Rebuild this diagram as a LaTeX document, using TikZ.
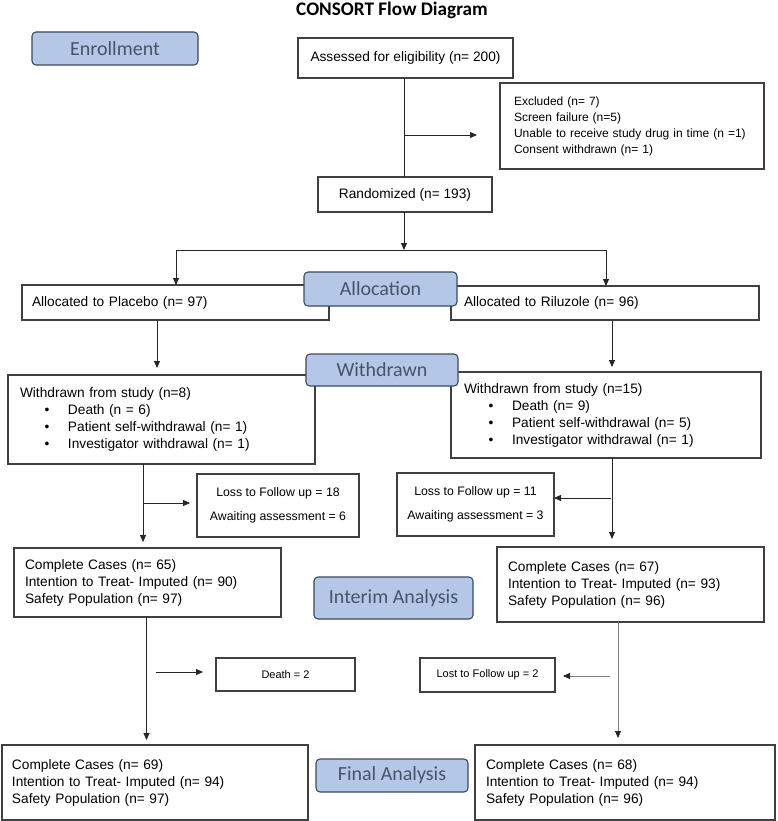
\documentclass[tikz,border=0pt]{standalone}
\usepackage{fontspec}
\setmainfont{Liberation Sans}
\newfontfamily\calfont{Carlito}
\usetikzlibrary{arrows.meta}
\definecolor{lblfill}{HTML}{B4C7E7}
\definecolor{lblline}{HTML}{3B4A5E}
\definecolor{lbltext}{HTML}{44546A}
\definecolor{boxline}{HTML}{404040}
\newcommand\bul{\makebox[48pt][l]{\hspace*{24.5pt}\textbullet}}
\tikzset{
  every node/.style={inner sep=0pt, outer sep=0pt},
  box/.style={draw=boxline, line width=1.1pt, fill=white},
  lbl/.style={draw=lblline, line width=1.1pt, fill=lblfill, rounded corners=4pt,
    font=\calfont\fontsize{20}{24}\selectfont, text=lbltext},
  arr/.style={draw=black!85, line width=0.9pt, -{Triangle[length=7pt,width=6pt]}},
  garr/.style={draw=black!50, line width=0.9pt, -{Triangle[length=7pt,width=6pt,color=black!85]}},
  ln/.style={draw=black!85, line width=0.9pt},
  main/.style={font=\fontsize{13.7}{17}\selectfont},
  small/.style={font=\fontsize{12}{16}\selectfont},
  loss/.style={font=\fontsize{12.3}{24}\selectfont, align=center},
  tiny/.style={font=\fontsize{11}{13}\selectfont},
}
\begin{document}
\begin{tikzpicture}[x=1pt,y=-1pt]
\fill[white] (0,0) rectangle (777,821);
\useasboundingbox (0,0) rectangle (777,821);

\node[font=\calfont\bfseries\fontsize{19.2}{23}\selectfont] (title) at (392,10) {CONSORT Flow Diagram};

% main boxes
\node[box, main, minimum width=215pt, minimum height=40pt] (assess) at (405.5,58) {Assessed for eligibility (n= 200)};
\node[box, small, minimum width=264pt, minimum height=86pt, text width=236pt, align=left] (excl) at (632,126)
  {Excluded (n= 7)\\Screen failure (n=5)\\Unable to receive study drug in time (n =1)\\Consent withdrawn (n= 1)};
\node[box, main, minimum width=174pt, minimum height=35pt] (rand) at (405,194.5) {Randomized (n= 193)};

\node[box, main, minimum width=307pt, minimum height=35pt, text width=287pt, align=left] (plac) at (175.5,302.5) {Allocated to Placebo (n= 97)};
\node[box, main, minimum width=308pt, minimum height=34pt, text width=282pt, align=left] (rilu) at (605,303) {Allocated to Riluzole (n= 96)};

\node[box, main, minimum width=307pt, minimum height=89pt, text width=283pt, align=left] (wl) at (161.5,419.5)
  {Withdrawn from study (n=8)\\\bul Death (n = 6)\\\bul Patient self-withdrawal (n= 1)\\\bul Investigator withdrawal (n= 1)};
\node[box, main, minimum width=310pt, minimum height=86pt, text width=284pt, align=left] (wr) at (606,415)
  {Withdrawn from study (n=15)\\\bul Death (n= 9)\\\bul Patient self-withdrawal (n= 5)\\\bul Investigator withdrawal (n= 1)};

\node[box, loss, minimum width=162pt, minimum height=63pt] (lossl) at (278,505.5) {Loss to Follow up = 18\\Awaiting assessment = 6};
\node[box, loss, minimum width=157pt, minimum height=63pt] (lossr) at (475.5,504.5) {Loss to Follow up = 11\\Awaiting assessment = 3};

\node[box, main, minimum width=267pt, minimum height=69pt, text width=245pt, align=left] (ccl) at (147.5,582.5)
  {Complete Cases (n= 65)\\Intention to Treat- Imputed (n= 90)\\Safety Population (n= 97)};
\node[box, main, minimum width=267pt, minimum height=75pt, text width=245pt, align=left] (ccr) at (630.5,584.5)
  {Complete Cases (n= 67)\\Intention to Treat- Imputed (n= 93)\\Safety Population (n= 96)};

\node[box, tiny, minimum width=139pt, minimum height=33pt] (death) at (285.5,674.5) {Death = 2};
\node[box, tiny, minimum width=135pt, minimum height=34pt] (lost) at (487.5,675) {Lost to Follow up = 2};

\node[box, main, minimum width=306pt, minimum height=75pt, text width=286pt, align=left] (fl) at (155,782.5)
  {Complete Cases (n= 69)\\Intention to Treat- Imputed (n= 94)\\Safety Population (n= 97)};
\node[box, main, minimum width=300pt, minimum height=75pt, text width=278pt, align=left] (fr) at (625,782.5)
  {Complete Cases (n= 68)\\Intention to Treat- Imputed (n= 94)\\Safety Population (n= 96)};

% label boxes
\node[lbl, minimum width=166pt, minimum height=33pt] (enr) at (115,48.5) {Enrollment};
\node[lbl, minimum width=153pt, minimum height=34pt] (alloc) at (380.5,289) {Allocation};
\node[lbl, minimum width=152pt, minimum height=32pt] (wdr) at (382,370) {Withdrawn};
\node[lbl, minimum width=159pt, minimum height=42pt] (interim) at (393.5,598) {Interim Analysis};
\node[lbl, minimum width=152pt, minimum height=33pt] (final) at (392,775.5) {Final Analysis};

% free ends / column positions
\coordinate (xa) at (404,135);
\coordinate (ex1) at (477,135);
\coordinate (br) at (404,250);
\coordinate (brl) at (176,250);
\coordinate (brr) at (606,250);
\coordinate (xp) at (157,0);
\coordinate (xq) at (612,0);
\coordinate (xw) at (143,0);
\coordinate (wh0) at (143,503);
\coordinate (vh0) at (611,498);
\coordinate (xc) at (146.5,0);
\coordinate (dh0) at (156,672);
\coordinate (xd) at (618,0);
\coordinate (lh0) at (610,676);

% connectors
\draw[ln] (assess.south -| xa) -- (rand.north -| xa);
\draw[arr] (xa) -- (ex1);
\draw[arr] (rand.south -| br) -- (br);
\draw[ln] (brl) -- (brr);
\draw[arr] (brl) -- (plac.north -| brl);
\draw[arr] (brr) -- (rilu.north -| brr);
\draw[arr, shorten <=1pt, shorten >=7pt] (plac.south -| xp) -- (wl.north -| xp);
\draw[arr, shorten <=1pt, shorten >=5pt] (rilu.south -| xq) -- (wr.north -| xq);
\draw[arr, shorten >=6pt] (wl.south -| xw) -- (ccl.north -| xw);
\draw[arr, shorten >=7pt] (wh0) -- (lossl.west |- wh0);
\draw[arr, shorten >=8pt] (wr.south -| xq) -- (ccr.north -| xq);
\draw[arr] (vh0) -- (lossr.east |- vh0);
\draw[arr, shorten >=5pt] (ccl.south -| xc) -- (fl.north -| xc);
\draw[arr, shorten >=13pt] (dh0) -- (death.west |- dh0);
\draw[garr, shorten >=7pt] (ccr.south -| xd) -- (fr.north -| xd);
\draw[garr, shorten >=8pt] (lh0) -- (lost.east |- lh0);
\end{tikzpicture}
\end{document}
